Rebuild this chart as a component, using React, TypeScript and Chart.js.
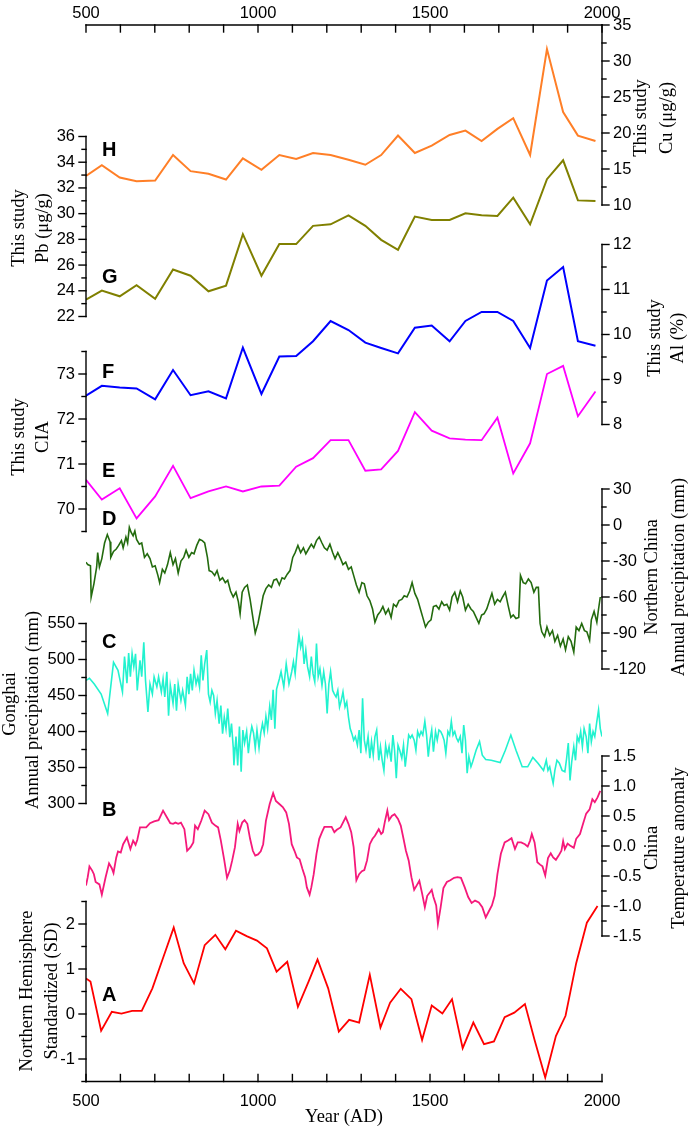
import { useEffect, useRef } from "react";
import { Chart, LineController, LineElement, PointElement, LinearScale } from "chart.js";

Chart.register(LineController, LineElement, PointElement, LinearScale);

// sediment samples, this study (H, G, F, E)
const sampleYears = [500, 546, 598, 647, 701, 753, 804, 856, 907, 956, 1010, 1062, 1111, 1160, 1211, 1263, 1312, 1358, 1407, 1456, 1505, 1557, 1603, 1650, 1696, 1742, 1791, 1840, 1887, 1930, 1981];
const cu = [14.05, 15.54, 13.82, 13.3, 13.4, 16.94, 14.7, 14.33, 13.54, 16.47, 14.89, 16.94, 16.38, 17.22, 16.94, 16.28, 15.59, 16.94, 19.64, 17.22, 18.24, 19.73, 20.33, 18.89, 20.57, 22.06, 16.94, 31.65, 22.9, 19.64, 18.89];
const pb = [23.32, 24.01, 23.57, 24.43, 23.37, 25.66, 25.17, 23.96, 24.4, 28.4, 25.17, 27.63, 27.63, 29.05, 29.17, 29.87, 29.05, 27.96, 27.19, 29.77, 29.51, 29.51, 30.03, 29.87, 29.82, 31.24, 29.17, 32.68, 34.15, 31.03, 30.98];
const al = [8.64, 8.86, 8.82, 8.8, 8.56, 9.21, 8.65, 8.74, 8.58, 9.71, 8.68, 9.51, 9.52, 9.85, 10.3, 10.1, 9.82, 9.7, 9.58, 10.15, 10.2, 9.85, 10.3, 10.5, 10.5, 10.3, 9.7, 11.2, 11.5, 9.85, 9.75];
const cia = [70.65, 70.21, 70.46, 69.79, 70.28, 70.96, 70.24, 70.39, 70.5, 70.39, 70.5, 70.52, 70.94, 71.13, 71.53, 71.53, 70.85, 70.88, 71.29, 72.15, 71.74, 71.57, 71.54, 71.53, 72.03, 70.79, 71.46, 73.0, 73.18, 72.06, 72.61];

// Northern Hemisphere standardized temperature (A)
const nhYears = [500, 513, 544, 575, 603, 634, 662, 693, 727, 755, 784, 814, 845, 876, 905, 936, 967, 997, 1026, 1054, 1085, 1116, 1147, 1173, 1204, 1235, 1265, 1294, 1325, 1356, 1384, 1415, 1446, 1477, 1505, 1536, 1564, 1595, 1626, 1657, 1686, 1717, 1745, 1776, 1804, 1835, 1866, 1894, 1925, 1956, 1987];
const nhSD = [0.79, 0.72, -0.37, 0.05, 0.01, 0.07, 0.07, 0.57, 1.31, 1.92, 1.13, 0.68, 1.53, 1.76, 1.44, 1.85, 1.73, 1.63, 1.46, 0.94, 1.16, 0.16, 0.72, 1.21, 0.57, -0.39, -0.13, -0.19, 0.87, -0.3, 0.25, 0.56, 0.33, -0.58, 0.19, 0.01, 0.33, -0.76, -0.19, -0.67, -0.61, -0.07, 0.03, 0.22, -0.58, -1.41, -0.49, -0.04, 1.13, 2.03, 2.4];

// Northern China annual precipitation anomaly, mm (D)
const northChina: [number, number][] = [
  [500, -31], [505, -33], [513, -34], [515, -60], [523, -49], [531, -35], [534, -23], [539, -35], [546, -28], [554, -15],
  [562, -8], [570, -14], [572, -27], [580, -22], [588, -20], [595, -17], [603, -13], [608, -19], [616, -10], [621, -15],
  [626, -2], [631, -6], [637, -9], [642, -5], [647, -12], [655, -16], [662, -15], [670, -27], [678, -24], [686, -28],
  [693, -35], [701, -34], [709, -42], [714, -48], [722, -37], [729, -40], [737, -33], [745, -23], [753, -33], [760, -28],
  [768, -40], [776, -30], [784, -27], [791, -21], [799, -27], [807, -23], [814, -24], [822, -17], [830, -12], [838, -13],
  [845, -15], [853, -27], [858, -38], [866, -39], [874, -42], [881, -38], [889, -46], [897, -44], [905, -48], [912, -46],
  [920, -55], [928, -60], [936, -56], [943, -64], [948, -74], [954, -56], [961, -52], [969, -50], [977, -62], [985, -77],
  [992, -90], [1000, -82], [1008, -70], [1015, -59], [1023, -53], [1031, -50], [1039, -52], [1046, -46], [1054, -45], [1062, -50],
  [1070, -44], [1077, -45], [1085, -41], [1093, -38], [1101, -27], [1108, -23], [1116, -17], [1124, -23], [1132, -19], [1139, -24],
  [1147, -20], [1155, -16], [1162, -19], [1170, -13], [1178, -10], [1186, -15], [1193, -19], [1201, -21], [1209, -16], [1217, -23],
  [1224, -28], [1232, -23], [1240, -28], [1247, -33], [1255, -31], [1263, -37], [1271, -35], [1278, -42], [1286, -50], [1294, -56],
  [1302, -48], [1309, -49], [1317, -59], [1325, -63], [1333, -70], [1340, -81], [1348, -75], [1356, -72], [1363, -68], [1371, -74],
  [1379, -70], [1387, -77], [1394, -66], [1402, -68], [1410, -63], [1418, -62], [1425, -59], [1433, -60], [1441, -55], [1448, -48],
  [1456, -57], [1464, -62], [1472, -70], [1479, -77], [1487, -85], [1495, -81], [1503, -79], [1510, -68], [1518, -67], [1526, -70],
  [1534, -64], [1541, -67], [1549, -66], [1557, -71], [1564, -60], [1572, -56], [1580, -64], [1588, -55], [1595, -60], [1603, -71],
  [1611, -66], [1619, -70], [1626, -72], [1634, -77], [1642, -82], [1650, -75], [1657, -74], [1665, -70], [1673, -63], [1680, -57],
  [1688, -66], [1696, -62], [1704, -64], [1711, -60], [1719, -56], [1727, -67], [1735, -77], [1742, -75], [1750, -78], [1758, -77],
  [1763, -42], [1771, -48], [1778, -49], [1786, -45], [1794, -48], [1802, -56], [1809, -52], [1815, -52], [1820, -82], [1825, -89],
  [1833, -93], [1840, -85], [1848, -92], [1856, -88], [1863, -97], [1871, -92], [1879, -101], [1887, -95], [1894, -104], [1902, -93],
  [1910, -97], [1918, -106], [1925, -85], [1933, -88], [1941, -82], [1949, -88], [1956, -89], [1964, -96], [1969, -79], [1977, -72],
  [1985, -81], [1990, -70], [1995, -60],
];

// Gonghai annual precipitation, mm (C)
const gonghai: [number, number][] = [
  [500, 471], [510, 474], [524, 466], [544, 452], [563, 425], [580, 496], [593, 485], [606, 455], [612, 504], [619, 467],
  [624, 509], [629, 476], [634, 508], [639, 490], [644, 508], [649, 457], [657, 499], [662, 476], [668, 524], [673, 471],
  [680, 427], [686, 466], [693, 452], [698, 476], [706, 462], [711, 476], [719, 455], [724, 473], [729, 448], [735, 483],
  [740, 422], [745, 464], [753, 439], [758, 466], [763, 429], [768, 466], [776, 443], [781, 457], [789, 436], [794, 476],
  [799, 452], [804, 480], [809, 457], [814, 485], [820, 466], [825, 476], [830, 462], [835, 506], [840, 471], [845, 494],
  [851, 513], [856, 452], [861, 441], [866, 457], [871, 450], [876, 425], [881, 443], [887, 411], [892, 436], [897, 397],
  [902, 420], [907, 404], [912, 432], [918, 392], [923, 411], [928, 378], [930, 353], [936, 393], [941, 353], [946, 407],
  [951, 344], [956, 402], [961, 384], [967, 400], [972, 370], [977, 393], [982, 407], [987, 398], [992, 377], [997, 402],
  [1003, 377], [1008, 398], [1013, 411], [1018, 398], [1023, 421], [1028, 404], [1034, 435], [1039, 416], [1044, 458], [1049, 404],
  [1054, 459], [1062, 473], [1067, 483], [1075, 462], [1082, 494], [1090, 466], [1098, 483], [1103, 497], [1108, 480], [1113, 508],
  [1119, 535], [1124, 517], [1129, 527], [1134, 494], [1139, 513], [1144, 490], [1150, 476], [1155, 504], [1160, 480], [1165, 469],
  [1170, 522], [1175, 476], [1180, 487], [1186, 464], [1191, 483], [1196, 466], [1201, 425], [1206, 466], [1211, 483], [1217, 457],
  [1222, 452], [1227, 448], [1232, 457], [1237, 434], [1242, 443], [1247, 455], [1253, 434], [1258, 441], [1263, 420], [1268, 404],
  [1273, 397], [1278, 388], [1283, 393], [1289, 381], [1294, 402], [1299, 370], [1304, 446], [1309, 388], [1314, 374], [1320, 393],
  [1325, 363], [1330, 386], [1335, 367], [1340, 393], [1345, 402], [1351, 360], [1356, 379], [1361, 360], [1366, 346], [1371, 381],
  [1376, 367], [1381, 379], [1387, 358], [1392, 395], [1397, 374], [1402, 335], [1407, 381], [1412, 374], [1418, 363], [1423, 381],
  [1428, 351], [1433, 372], [1438, 395], [1443, 391], [1448, 395], [1454, 388], [1459, 374], [1464, 400], [1469, 393], [1474, 400],
  [1479, 395], [1485, 414], [1490, 395], [1495, 365], [1500, 388], [1505, 402], [1510, 372], [1516, 400], [1521, 388], [1526, 402],
  [1531, 400], [1536, 395], [1541, 388], [1546, 370], [1552, 400], [1557, 395], [1562, 414], [1567, 395], [1572, 400], [1577, 391],
  [1582, 386], [1588, 393], [1593, 370], [1598, 409], [1603, 388], [1608, 342], [1613, 365], [1619, 351], [1624, 358], [1634, 374],
  [1644, 386], [1652, 367], [1662, 361], [1678, 360], [1704, 357], [1719, 374], [1735, 395], [1750, 374], [1768, 351], [1784, 351],
  [1799, 364], [1814, 356], [1830, 346], [1838, 360], [1843, 346], [1848, 351], [1853, 339], [1858, 328], [1863, 346], [1869, 360],
  [1876, 356], [1884, 346], [1892, 344], [1897, 362], [1902, 384], [1907, 332], [1912, 358], [1918, 379], [1923, 360], [1928, 393],
  [1933, 386], [1938, 400], [1943, 379], [1948, 404], [1954, 393], [1959, 370], [1964, 411], [1969, 386], [1974, 400], [1979, 393],
  [1985, 414], [1990, 430], [1995, 404], [2000, 393],
];

// China temperature anomaly (B)
const chinaTemp: [number, number][] = [
  [500, -0.66], [505, -0.52], [510, -0.34], [518, -0.41], [523, -0.47], [528, -0.6], [539, -0.64], [546, -0.81], [557, -0.52], [567, -0.29],
  [575, -0.37], [580, -0.45], [588, -0.19], [593, -0.09], [601, -0.11], [608, 0.03], [619, 0.14], [629, -0.05], [637, 0.09], [644, 0.02],
  [649, 0.1], [657, 0.31], [668, 0.31], [675, 0.31], [686, 0.38], [698, 0.41], [711, 0.43], [724, 0.59], [735, 0.48], [745, 0.38],
  [753, 0.37], [760, 0.39], [768, 0.37], [776, 0.39], [786, 0.28], [794, -0.08], [804, -0.02], [812, 0.06], [817, 0.34], [825, 0.28],
  [835, 0.42], [845, 0.59], [856, 0.53], [866, 0.39], [876, 0.34], [884, 0.31], [892, 0.09], [902, -0.24], [910, -0.53], [918, -0.41],
  [925, -0.24], [933, -0.02], [941, 0.37], [946, 0.25], [954, 0.39], [961, 0.43], [969, 0.37], [977, 0.12], [985, -0.08], [992, -0.16],
  [1000, -0.14], [1008, -0.09], [1015, 0.03], [1023, 0.42], [1034, 0.7], [1044, 0.88], [1052, 0.75], [1062, 0.7], [1072, 0.65], [1082, 0.56],
  [1090, 0.37], [1098, 0.03], [1106, -0.08], [1113, -0.19], [1121, -0.22], [1129, -0.38], [1137, -0.52], [1142, -0.69], [1150, -0.81], [1155, -0.69],
  [1162, -0.47], [1170, -0.13], [1178, 0.12], [1186, 0.23], [1193, 0.32], [1204, 0.32], [1214, 0.32], [1222, 0.23], [1229, 0.27], [1240, 0.31],
  [1247, 0.39], [1255, 0.48], [1263, 0.37], [1271, 0.23], [1278, -0.02], [1286, -0.57], [1294, -0.47], [1302, -0.42], [1309, -0.4], [1317, -0.24],
  [1325, 0.03], [1333, 0.12], [1340, 0.17], [1351, 0.28], [1358, 0.2], [1363, 0.23], [1369, 0.41], [1376, 0.59], [1381, 0.43], [1389, 0.5],
  [1397, 0.53], [1407, 0.45], [1415, 0.34], [1423, 0.12], [1430, -0.08], [1438, -0.24], [1446, -0.52], [1454, -0.73], [1461, -0.66], [1469, -0.58],
  [1477, -0.79], [1485, -1.02], [1492, -0.83], [1500, -0.77], [1505, -0.73], [1510, -0.85], [1518, -0.99], [1523, -1.3], [1531, -1.02], [1539, -0.7],
  [1549, -0.6], [1559, -0.57], [1570, -0.53], [1580, -0.52], [1590, -0.53], [1601, -0.69], [1611, -0.85], [1621, -0.95], [1631, -0.91], [1642, -0.94],
  [1652, -1.02], [1662, -1.19], [1670, -1.1], [1680, -0.99], [1688, -0.83], [1696, -0.47], [1706, -0.13], [1717, 0.06], [1727, 0.09], [1737, 0.13],
  [1747, -0.05], [1755, 0.06], [1765, 0.06], [1776, 0.03], [1784, -0.01], [1791, 0.09], [1796, 0.2], [1804, 0.06], [1812, -0.27], [1820, -0.31],
  [1827, -0.34], [1835, -0.49], [1843, -0.2], [1851, -0.12], [1858, -0.19], [1866, -0.23], [1874, -0.16], [1882, -0.08], [1887, 0.08], [1892, -0.05],
  [1900, 0.04], [1907, 0.01], [1918, -0.03], [1925, 0.12], [1936, 0.2], [1946, 0.39], [1954, 0.54], [1964, 0.61], [1972, 0.78], [1979, 0.73],
  [1987, 0.81], [1995, 0.92],
];

// tick labels
const yearTicks = [500, 600, 700, 800, 900, 1000, 1100, 1200, 1300, 1400, 1500, 1600, 1700, 1800, 1900, 2000];
const yearLabels = [500, 1000, 1500, 2000];
const cuTicks = [10, 15, 20, 25, 30, 35];
const pbTicks = [22, 24, 26, 28, 30, 32, 34, 36];
const alTicks = [8, 9, 10, 11, 12];
const ciaTicks = [70, 71, 72, 73];
const ncTicks = [-120, -90, -60, -30, 0, 30];
const ghTicks = [300, 350, 400, 450, 500, 550];
const tempTicks = [-1.5, -1, -0.5, 0, 0.5, 1, 1.5];
const nhTicks = [-1, 0, 1, 2];

const W = 692;
const H = 1129;
const FRAME = { left: 86, right: 602, top: 25, bottom: 1081.5 };
const TICK_FONT = '16.5px "Liberation Sans", Arial, sans-serif';
const TITLE_FONT = '18.5px "Liberation Serif", "Times New Roman", serif';
const LETTER_FONT = 'bold 20px "Liberation Sans", Arial, sans-serif';

type Panel = {
  id: string;
  letter: string;
  letterY: number;
  color: string;
  width: number;
  points: { x: number; y: number }[];
  side: "left" | "right";
  range: [number, number]; // value at band top, value at band bottom
  band: [number, number]; // pixel top, pixel bottom
  ticks: number[];
  dec: number;
  title: [string, string];
  titleX: [number, number];
  titleY: [number, number];
};

const pairs = (xs: number[], ys: number[]) => xs.map((x, i) => ({ x, y: ys[i] }));
const fromPairs = (p: [number, number][]) => p.map(([x, y]) => ({ x, y }));

const panels: Panel[] = [
  { id: "yCu", letter: "H", letterY: 150.5, color: "#ff7f27", width: 2, points: pairs(sampleYears, cu), side: "right",
    range: [35, 10], band: [25, 205], ticks: cuTicks, dec: 0, title: ["This study", "Cu (μg/g)"], titleX: [641, 667], titleY: [118, 118] },
  { id: "yPb", letter: "G", letterY: 277, color: "#808000", width: 2, points: pairs(sampleYears, pb), side: "left",
    range: [36, 22], band: [136.5, 316.5], ticks: pbTicks, dec: 0, title: ["This study", "Pb (μg/g)"], titleX: [19, 43], titleY: [228, 228] },
  { id: "yAl", letter: "F", letterY: 372, color: "#0000ff", width: 2, points: pairs(sampleYears, al), side: "right",
    range: [12, 8], band: [244.5, 424.5], ticks: alTicks, dec: 0, title: ["This study", "Al (%)"], titleX: [655, 678], titleY: [338, 338] },
  { id: "yCia", letter: "E", letterY: 471, color: "#ff00ff", width: 1.8, points: pairs(sampleYears, cia), side: "left",
    range: [73.5, 69.5], band: [351.5, 531.5], ticks: ciaTicks, dec: 0, title: ["This study", "CIA"], titleX: [19, 43], titleY: [437, 437] },
  { id: "yNc", letter: "D", letterY: 519, color: "#236b0e", width: 1.6, points: fromPairs(northChina), side: "right",
    range: [30, -120], band: [489, 669], ticks: ncTicks, dec: 0, title: ["Northern China", "Annual precipitation (mm)"], titleX: [652, 679], titleY: [577, 577] },
  { id: "yGh", letter: "C", letterY: 642, color: "#22f2cf", width: 1.6, points: fromPairs(gonghai), side: "left",
    range: [550, 300], band: [623.5, 803.5], ticks: ghTicks, dec: 0, title: ["Gonghai", "Annual precipitation (mm)"], titleX: [10, 33], titleY: [704, 710] },
  { id: "yT", letter: "B", letterY: 810, color: "#f5197a", width: 1.8, points: fromPairs(chinaTemp), side: "right",
    range: [1.5, -1.5], band: [756, 936], ticks: tempTicks, dec: 1, title: ["China", "Temperature anomaly"], titleX: [652, 679], titleY: [848, 848] },
  { id: "yNh", letter: "A", letterY: 995, color: "#ff0000", width: 1.8, points: pairs(nhYears, nhSD), side: "left",
    range: [2.5, -1.5], band: [901.5, 1081.5], ticks: nhTicks, dec: 0, title: ["Northern Hemisphere", "Standardized (SD)"], titleX: [27, 52], titleY: [991, 991] },
];

// stretch each hidden y scale so its value range lands on the panel's band
function scaleLimits(p: Panel) {
  const [vTop, vBot] = p.range;
  const [pTop, pBot] = p.band;
  const perPx = (vTop - vBot) / (pBot - pTop);
  return { min: vBot - (FRAME.bottom - pBot) * perPx, max: vTop + (pTop - FRAME.top) * perPx };
}

function line(ctx: CanvasRenderingContext2D, x1: number, y1: number, x2: number, y2: number) {
  ctx.beginPath();
  ctx.moveTo(x1, y1);
  ctx.lineTo(x2, y2);
  ctx.stroke();
}

function upText(ctx: CanvasRenderingContext2D, s: string, x: number, y: number) {
  ctx.save();
  ctx.translate(x, y);
  ctx.rotate(-Math.PI / 2);
  ctx.textAlign = "center";
  ctx.textBaseline = "middle";
  ctx.fillText(s, 0, 0);
  ctx.restore();
}

const axesPlugin = {
  id: "stackedAxes",
  afterDatasetsDraw(chart: Chart) {
    const ctx = chart.ctx;
    const xs = chart.scales.x;
    const left = xs.getPixelForValue(500);
    const right = xs.getPixelForValue(2000);
    const top = chart.chartArea.top;
    const bottom = chart.chartArea.bottom;
    ctx.save();
    ctx.strokeStyle = "#000";
    ctx.fillStyle = "#000";
    ctx.lineWidth = 1.4;
    ctx.lineCap = "square";

    // top and bottom year axes, ticks inward
    line(ctx, left, top, right, top);
    line(ctx, left, bottom, right, bottom);
    for (const yr of yearTicks) {
      const px = xs.getPixelForValue(yr);
      line(ctx, px, top, px, top + 7);
      line(ctx, px, bottom, px, bottom - 7);
    }
    ctx.font = TICK_FONT;
    ctx.textAlign = "center";
    ctx.textBaseline = "middle";
    for (const yr of yearLabels) {
      const px = xs.getPixelForValue(yr);
      ctx.fillText(String(yr), px, top - 12);
      ctx.fillText(String(yr), px, bottom + 20);
    }
    ctx.font = TITLE_FONT;
    ctx.fillText("Year (AD)", (left + right) / 2, bottom + 36);

    for (const p of panels) {
      const s = chart.scales[p.id];
      const x = p.side === "left" ? left : right;
      const dir = p.side === "left" ? -1 : 1;
      const [vTop, vBot] = p.range;
      line(ctx, x, s.getPixelForValue(vTop), x, s.getPixelForValue(vBot));
      const half = (p.ticks[1] - p.ticks[0]) / 2;
      const n = Math.round((vTop - vBot) / half);
      for (let k = 0; k <= n; k++) {
        const v = vBot + k * half;
        const major = p.ticks.some((t) => Math.abs(t - v) < 1e-6);
        const py = s.getPixelForValue(v);
        line(ctx, x, py, x + dir * (major ? 7 : 4), py);
      }
      ctx.font = TICK_FONT;
      ctx.textAlign = p.side === "left" ? "right" : "left";
      ctx.textBaseline = "middle";
      for (const t of p.ticks) {
        ctx.fillText(t.toFixed(p.dec), x + dir * 11, s.getPixelForValue(t));
      }
      ctx.font = TITLE_FONT;
      upText(ctx, p.title[0], p.titleX[0], p.titleY[0]);
      upText(ctx, p.title[1], p.titleX[1], p.titleY[1]);
      ctx.font = LETTER_FONT;
      ctx.textAlign = "left";
      ctx.fillText(p.letter, 102, p.letterY);
    }
    ctx.restore();
  },
};

export default function App() {
  const canvasRef = useRef<HTMLCanvasElement>(null);

  useEffect(() => {
    document.body.style.margin = "0";
    if (!canvasRef.current) return;
    const scales: Record<string, object> = {
      x: { type: "linear", min: 500, max: 2000, display: false },
    };
    for (const p of panels) {
      scales[p.id] = { type: "linear", ...scaleLimits(p), display: false };
    }
    const chart = new Chart(canvasRef.current, {
      type: "line",
      data: {
        datasets: panels.map((p) => ({
          label: p.letter,
          data: p.points,
          yAxisID: p.id,
          borderColor: p.color,
          borderWidth: p.width,
          pointRadius: 0,
          tension: 0,
          fill: false,
        })),
      },
      options: {
        responsive: false,
        animation: false,
        events: [],
        layout: {
          padding: { left: FRAME.left, right: W - FRAME.right, top: FRAME.top, bottom: H - FRAME.bottom },
        },
        plugins: { legend: { display: false }, tooltip: { enabled: false } },
        scales: scales as any,
      },
      plugins: [axesPlugin],
    });
    return () => chart.destroy();
  }, []);

  return (
    <div style={{ width: W, height: H, background: "#fff" }}>
      <canvas ref={canvasRef} width={W} height={H} style={{ display: "block" }} />
    </div>
  );
}
